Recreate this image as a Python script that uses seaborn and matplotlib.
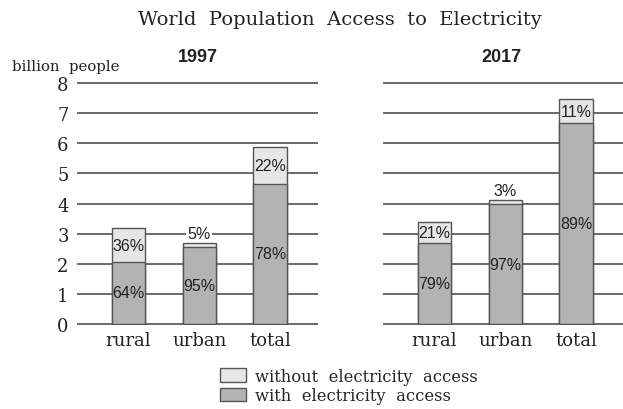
import matplotlib
matplotlib.use("Agg")
import matplotlib.pyplot as plt
import matplotlib.patches as mpatches
import seaborn as sns
import pandas as pd

sns.set_theme(style="white")
plt.rcParams['font.family'] = ['DejaVu Serif', 'Liberation Serif']

categories = ["rural", "urban", "total"]
years = ["1997", "2017"]
total_1997 = [3.17, 2.68, 5.89]
with_1997 = [2.07, 2.55, 4.65]
pct_with_1997 = ["64%", "95%", "78%"]
pct_without_1997 = ["36%", "5%", "22%"]
total_2017 = [3.40, 4.10, 7.48]
with_2017 = [2.68, 3.97, 6.66]
pct_with_2017 = ["79%", "97%", "89%"]
pct_without_2017 = ["21%", "3%", "11%"]
yticks = [0, 1, 2, 3, 4, 5, 6, 7, 8]

LIGHT = "#e6e6e6"
DARK = "#b3b3b3"
EDGE = "#555555"
LINE = "#5e5e5e"
PCT_FONT = ['Liberation Sans', 'DejaVu Sans']

fig = plt.figure(figsize=(6.23, 4.10), dpi=100)
ax1 = fig.add_axes([77/623, 1-326/410, 241/623, 243/410])
ax2 = fig.add_axes([383/623, 1-326/410, 241/623, 243/410])

datasets = [
    (ax1, years[0], total_1997, with_1997, pct_with_1997, pct_without_1997),
    (ax2, years[1], total_2017, with_2017, pct_with_2017, pct_without_2017),
]

for ax, yr, tot, wth, pw, pwo in datasets:
    df = pd.DataFrame({"cat": categories, "total": tot, "with": wth})
    for yv in yticks:
        ax.axhline(yv, color=LINE, lw=1.3, zorder=0)
    sns.barplot(data=df, x="cat", y="total", order=categories, color=LIGHT,
                edgecolor=EDGE, linewidth=1.0, width=0.47, saturation=1, ax=ax, zorder=2)
    sns.barplot(data=df, x="cat", y="with", order=categories, color=DARK,
                edgecolor=EDGE, linewidth=1.0, width=0.47, saturation=1, ax=ax, zorder=3)
    for i in range(len(categories)):
        ax.text(i, wth[i] / 2, pw[i], ha="center", va="center", fontsize=11.5,
                family=PCT_FONT, color="#222222", zorder=5)
        top = tot[i] - wth[i]
        if top > 0.4:
            ax.text(i, (tot[i] + wth[i]) / 2, pwo[i], ha="center", va="center",
                    fontsize=11.5, family=PCT_FONT, color="#222222", zorder=5)
        else:
            ax.text(i, tot[i] + 0.33, pwo[i], ha="center", va="center",
                    fontsize=11.5, family=PCT_FONT, color="#222222", zorder=5,
                    bbox=dict(facecolor="white", edgecolor="none", pad=1))
    ax.set_xlim(-0.73, 2.68)
    ax.set_ylim(-0.035, 8.035)
    ax.set_yticks(yticks)
    ax.set_xlabel("")
    ax.set_ylabel("")
    for s in ax.spines.values():
        s.set_visible(False)
    ax.tick_params(axis="x", length=0, labelsize=13, pad=4, colors="#222222")
    ax.tick_params(axis="y", length=0, labelsize=13, pad=6, colors="#222222")
    ax.set_facecolor("none")

ax2.set_yticklabels([])

fig.text(340/623, 1-20/410, "World  Population  Access  to  Electricity", ha="center",
         va="center", fontsize=14, color="#222222")
fig.text(12/623, 1-67/410, "billion  people", ha="left", va="center", fontsize=10.7, color="#222222")
fig.text(198/623, 1-58/410, years[0], ha="center", va="center", fontsize=13,
         family=PCT_FONT, fontweight="bold", color="#222222")
fig.text(501/623, 1-58/410, years[1], ha="center", va="center", fontsize=13,
         family=PCT_FONT, fontweight="bold", color="#222222")

handles = [mpatches.Patch(facecolor=LIGHT, edgecolor=EDGE, label="without  electricity  access"),
           mpatches.Patch(facecolor=DARK, edgecolor=EDGE, label="with  electricity  access")]
fig.legend(handles=handles, loc="center left", bbox_to_anchor=(212/623, 1-387/410),
           frameon=False, fontsize=11.8, handlelength=1.6, handleheight=0.9,
           handletextpad=0.5, labelspacing=0.15, borderpad=0)

fig.savefig("out.png", dpi=100)
